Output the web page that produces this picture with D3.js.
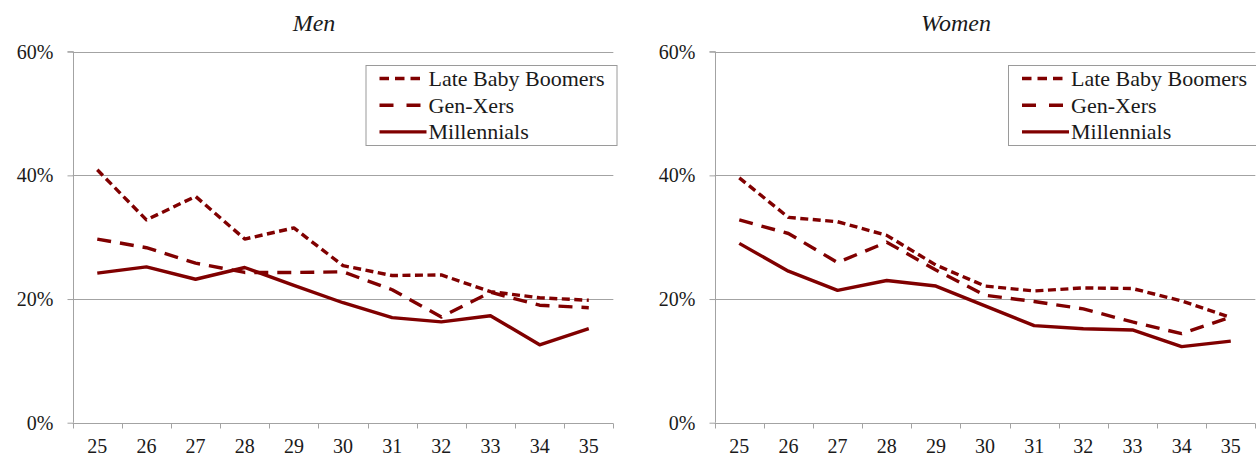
<!DOCTYPE html>
<html>
<head>
<meta charset="utf-8">
<script src="https://cdn.jsdelivr.net/npm/d3@7"></script>
</head>
<body style="margin:0">
<svg id="chart" width="1256" height="456"></svg>
<script>
// ---- Data ----
const ages = ["25","26","27","28","29","30","31","32","33","34","35"];
const yTicks = [0, 0.2, 0.4, 0.6];
const seriesNames = ["Late Baby Boomers", "Gen-Xers", "Millennials"];

const menBoomers     = [40.9, 32.8, 36.6, 29.7, 31.5, 25.4, 23.8, 23.9, 21.2, 20.2, 19.8];
const menGenX        = [29.7, 28.3, 25.8, 24.3, 24.3, 24.4, 21.5, 17.1, 21.1, 19.0, 18.6];
const menMillennials = [24.2, 25.2, 23.2, 25.1, 22.2, 19.4, 17.0, 16.3, 17.3, 12.6, 15.2];

const womenBoomers     = [39.6, 33.2, 32.5, 30.3, 25.5, 22.1, 21.3, 21.8, 21.7, 19.7, 17.0];
const womenGenX        = [32.8, 30.6, 25.9, 29.2, 24.7, 20.6, 19.6, 18.4, 16.3, 14.4, 17.1];
const womenMillennials = [29.0, 24.5, 21.4, 23.0, 22.1, 18.9, 15.7, 15.2, 15.0, 12.3, 13.2];

const panels = [
  { title: "Men",   series: [menBoomers, menGenX, menMillennials],
    x0: 72.7, titleX: 314, legendX: 365.5, legendW: 251 },
  { title: "Women", series: [womenBoomers, womenGenX, womenMillennials],
    x0: 714.7, titleX: 956, legendX: 1008, legendW: 251 }
];

const dashes = ["8,4.5", "14,9", null];
const color = "#800000";
const gridColor = "#a3a3a3";
const textColor = "#1a1a1a";
const band = 49.15;
const yTop = 51.7, yBottom = 422.7;
const FONT = '"Liberation Serif", "Times New Roman", serif';

const svg = d3.select("#chart");

panels.forEach(p => {
  const x = d3.scaleBand().domain(ages).range([p.x0, p.x0 + band * ages.length]).padding(0);
  const y = d3.scaleLinear().domain([0, 0.6]).range([yBottom, yTop]);
  const [xa, xb] = x.range();

  // Title
  svg.append("text").attr("x", p.titleX).attr("y", 31)
    .attr("text-anchor", "middle").attr("font-family", FONT)
    .attr("font-style", "italic").attr("font-size", 24).attr("fill", textColor)
    .text(p.title);

  // Gridlines
  svg.selectAll(null).data(yTicks.filter(d => d > 0)).join("line")
    .attr("x1", xa).attr("x2", xb)
    .attr("y1", d => Math.round(y(d)) + 0.5).attr("y2", d => Math.round(y(d)) + 0.5)
    .attr("stroke", gridColor).attr("stroke-width", 1);

  // Y axis
  const yAxis = d3.axisLeft(y).tickValues(yTicks).tickFormat(d3.format(".0%")).tickSize(6).tickPadding(14);
  const ya = svg.append("g").attr("transform", `translate(${Math.round(xa) + 0.5},0)`).call(yAxis);
  ya.attr("font-family", FONT).attr("font-size", 20);
  ya.select(".domain").attr("stroke", gridColor).attr("d", `M-6,${y(0.6)}H0V${y(0)}`);
  ya.selectAll(".tick line").attr("stroke", gridColor);
  ya.selectAll(".tick text").attr("fill", textColor);

  // X axis
  const xAxis = d3.axisBottom(x).tickSize(0).tickPadding(15);
  const xg = svg.append("g").attr("transform", `translate(0,${Math.round(yBottom) + 0.5})`).call(xAxis);
  xg.attr("font-family", FONT).attr("font-size", 20);
  xg.select(".domain").attr("stroke", gridColor).attr("d", `M${xa},0H${xb}`);
  xg.selectAll(".tick text").attr("fill", textColor);
  const bounds = ages.map(a => x(a)).concat([xb]);
  xg.selectAll(".bt").data(bounds).join("line")
    .attr("x1", d => Math.round(d) + 0.5).attr("x2", d => Math.round(d) + 0.5)
    .attr("y1", 0).attr("y2", 5).attr("stroke", gridColor);

  // Lines
  const line = d3.line()
    .x((d, i) => x(ages[i]) + x.bandwidth() / 2)
    .y(d => y(d / 100));
  p.series.forEach((s, i) => {
    svg.append("path").datum(s).attr("d", line)
      .attr("fill", "none").attr("stroke", color).attr("stroke-width", 3.4)
      .attr("stroke-linejoin", "round")
      .attr("stroke-dasharray", dashes[i]);
  });

  // Legend
  svg.append("rect").attr("x", p.legendX + 0.5).attr("y", 65.5).attr("width", p.legendW).attr("height", 80)
    .attr("fill", "#fff").attr("stroke", "#9a9a9a");
  seriesNames.forEach((name, i) => {
    const cy = 78.5 + i * 26.7;
    svg.append("line").attr("x1", p.legendX + 14).attr("x2", p.legendX + (i === 2 ? 61 : 58))
      .attr("y1", cy).attr("y2", cy)
      .attr("stroke", color).attr("stroke-width", 3.4).attr("stroke-dasharray", i === 0 ? "9.5,6" : (i === 1 ? "14,13" : null));
    svg.append("text").attr("x", p.legendX + 63).attr("y", cy).attr("dy", "0.34em")
      .attr("font-family", FONT).attr("font-size", 22).attr("fill", textColor).text(name);
  });
});
</script>
</body>
</html>
